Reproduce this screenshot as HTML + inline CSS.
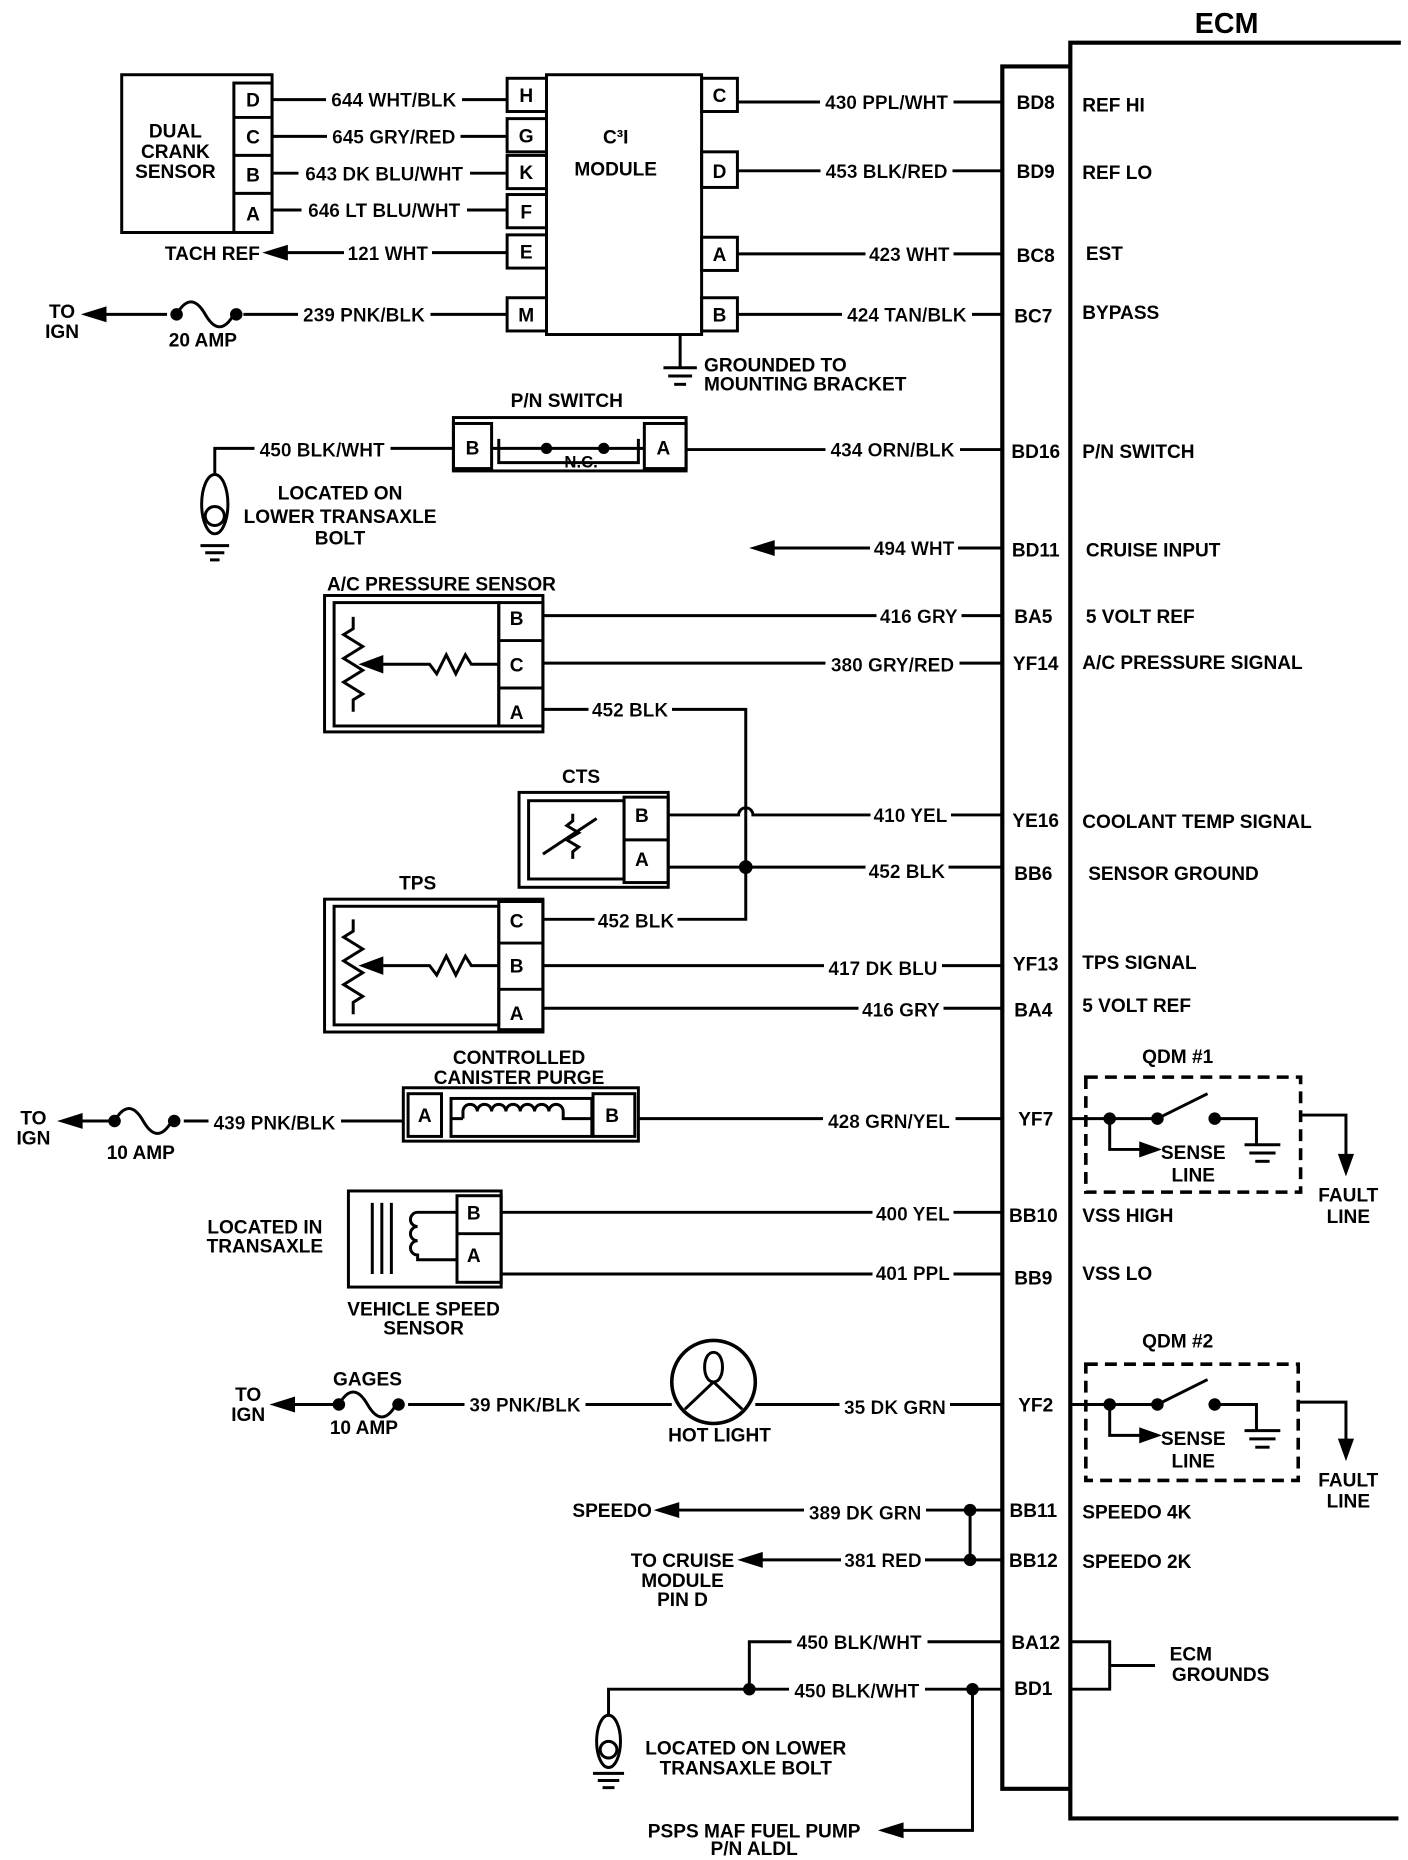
<!DOCTYPE html>
<html><head><meta charset="utf-8"><style>
html,body{margin:0;padding:0;background:#fff}
svg{display:block}
text{font-family:"Liberation Sans",sans-serif;font-weight:bold;font-size:16px;fill:#000}
.m{filter:url(#bg)}
.c{text-anchor:middle}
line,path,rect,polyline,circle,ellipse{stroke:#000;stroke-width:2.5;fill:none}
.t{stroke-width:3.5}
.d{fill:#000}
.dash{stroke-dasharray:10 6;stroke-width:3}
</style></head><body>
<svg width="1408" height="1860" viewBox="0 0 1180 1568" preserveAspectRatio="none">
<defs><filter id="bg" x="-0.04" y="-0.1" width="1.08" height="1.2"><feFlood flood-color="#fff"/><feComposite in="SourceGraphic"/></filter></defs>
<!-- ECM -->
<text x="1028" y="28" class="c" style="font-size:24px">ECM</text>
<polyline class="t" points="1174,36 897,36 897,1533 1172,1533"/>
<polyline class="t" points="897,56 840,56 840,1508 897,1508"/>
<g>
<line x1="618" y1="86" x2="840" y2="86"/><text x="743" y="92" class="c m">430 PPL/WHT</text><text x="868" y="92" class="c">BD8</text><text x="907" y="94">REF HI</text>
<line x1="618" y1="144" x2="840" y2="144"/><text x="743" y="150" class="c m">453 BLK/RED</text><text x="868" y="150" class="c">BD9</text><text x="907" y="151">REF LO</text>
<line x1="618" y1="214" x2="840" y2="214"/><text x="762" y="220" class="c m">423  WHT</text><text x="868" y="221" class="c">BC8</text><text x="910" y="219">EST</text>
<line x1="618" y1="265" x2="840" y2="265"/><text x="760" y="271" class="c m">424 TAN/BLK</text><text x="866" y="272" class="c">BC7</text><text x="907" y="269">BYPASS</text>
<line x1="575" y1="379" x2="840" y2="379"/><text x="748" y="385" class="c m">434 ORN/BLK</text><text x="868" y="386" class="c">BD16</text><text x="907" y="386">P/N SWITCH</text>
<line x1="640" y1="462" x2="840" y2="462"/><path class="d" d="M632,462 l16,-5 v10z"/><text x="766" y="468" class="c m">494 WHT</text><text x="868" y="469" class="c">BD11</text><text x="910" y="469">CRUISE INPUT</text>
<line x1="455" y1="519" x2="840" y2="519"/><text x="770" y="525" class="c m">416 GRY</text><text x="866" y="525" class="c">BA5</text><text x="910" y="525">5 VOLT REF</text>
<line x1="455" y1="559" x2="840" y2="559"/><text x="748" y="566" class="c m">380 GRY/RED</text><text x="868" y="565" class="c">YF14</text><text x="907" y="564">A/C PRESSURE SIGNAL</text>
<path d="M560,687 H619 a6,6 0 0 1 12,0 H840"/><text x="763" y="693" class="c m">410 YEL</text><text x="868" y="697" class="c">YE16</text><text x="907" y="698">COOLANT TEMP SIGNAL</text>
<line x1="560" y1="731" x2="840" y2="731"/><text x="760" y="740" class="c m">452 BLK</text><text x="866" y="742" class="c">BB6</text><text x="912" y="742">SENSOR GROUND</text>
<line x1="455" y1="814" x2="840" y2="814"/><text x="740" y="822" class="c m">417 DK BLU</text><text x="868" y="818" class="c">YF13</text><text x="907" y="817">TPS SIGNAL</text>
<line x1="455" y1="850" x2="840" y2="850"/><text x="755" y="857" class="c m">416 GRY</text><text x="866" y="857" class="c">BA4</text><text x="907" y="853">5 VOLT REF</text>
<line x1="535" y1="943" x2="840" y2="943"/><line x1="897" y1="943" x2="930" y2="943"/><text x="745" y="951" class="c m">428 GRN/YEL</text><text x="868" y="949" class="c">YF7</text>
<line x1="420" y1="1022" x2="840" y2="1022"/><text x="765" y="1029" class="c m">400 YEL</text><text x="866" y="1030" class="c">BB10</text><text x="907" y="1030">VSS HIGH</text>
<line x1="420" y1="1074" x2="840" y2="1074"/><text x="765" y="1079" class="c m">401 PPL</text><text x="866" y="1083" class="c">BB9</text><text x="907" y="1079">VSS LO</text>
<line x1="633" y1="1184" x2="840" y2="1184"/><line x1="897" y1="1184" x2="930" y2="1184"/><text x="750" y="1192" class="c m">35 DK GRN</text><text x="868" y="1190" class="c">YF2</text>
<line x1="560" y1="1273" x2="840" y2="1273"/><path class="d" d="M552,1273 l16,-5 v10z"/><text x="725" y="1281" class="c m">389 DK GRN</text><text x="866" y="1279" class="c">BB11</text><text x="907" y="1280">SPEEDO 4K</text>
<line x1="630" y1="1315" x2="840" y2="1315"/><path class="d" d="M622,1315 l16,-5 v10z"/><text x="740" y="1321" class="c m">381 RED</text><text x="866" y="1321" class="c">BB12</text><text x="907" y="1322">SPEEDO 2K</text>
<line x1="813" y1="1273" x2="813" y2="1315"/><circle class="d" cx="813" cy="1273" r="4"/><circle class="d" cx="813" cy="1315" r="4"/>
<text x="513" y="1279" class="c">SPEEDO</text>
<text x="572" y="1321" class="c">TO CRUISE</text><text x="572" y="1338" class="c">MODULE</text><text x="572" y="1354" class="c">PIN D</text>
<polyline points="628,1424 628,1384 840,1384"/><text x="720" y="1390" class="c m">450 BLK/WHT</text><text x="868" y="1390" class="c">BA12</text>
<polyline points="510,1445 510,1424 840,1424"/><text x="718" y="1431" class="c m">450 BLK/WHT</text><text x="866" y="1429" class="c">BD1</text>
<circle class="d" cx="628" cy="1424" r="4"/><circle class="d" cx="815" cy="1424" r="4"/>
<polyline points="815,1424 815,1543 750,1543"/><path class="d" d="M740,1543 l16,-5 v10z"/>
<text x="632" y="1549" class="c">PSPS MAF FUEL PUMP</text><text x="632" y="1564" class="c">P/N ALDL</text>
<polyline points="897,1384 930,1384 930,1424 897,1424"/><line x1="930" y1="1404" x2="968" y2="1404"/>
<text x="998" y="1400" class="c">ECM</text><text x="1023" y="1417" class="c">GROUNDS</text>
<ellipse cx="510" cy="1468" rx="10" ry="22"/><circle cx="510" cy="1475" r="7"/><line x1="497" y1="1495" x2="523" y2="1495"/><line x1="501" y1="1501" x2="519" y2="1501"/><line x1="505" y1="1507" x2="515" y2="1507"/>
<text x="625" y="1479" class="c">LOCATED ON LOWER</text><text x="625" y="1496" class="c">TRANSAXLE BOLT</text>
</g>
<!-- Dual crank sensor -->
<rect x="102" y="63" width="126" height="133"/>
<rect x="196" y="70" width="32" height="126"/>
<line x1="196" y1="99" x2="228" y2="99"/><line x1="196" y1="131" x2="228" y2="131"/><line x1="196" y1="163" x2="228" y2="163"/>
<text x="212" y="90" class="c">D</text><text x="212" y="121" class="c">C</text><text x="212" y="153" class="c">B</text><text x="212" y="186" class="c">A</text>
<text x="147" y="116" class="c">DUAL</text><text x="147" y="133" class="c">CRANK</text><text x="147" y="150" class="c">SENSOR</text>
<line x1="228" y1="84" x2="425" y2="84"/><text x="330" y="90" class="c m">644 WHT/BLK</text>
<line x1="228" y1="115" x2="425" y2="115"/><text x="330" y="121" class="c m">645 GRY/RED</text>
<line x1="228" y1="146" x2="425" y2="146"/><text x="322" y="152" class="c m">643 DK BLU/WHT</text>
<line x1="228" y1="177" x2="425" y2="177"/><text x="322" y="183" class="c m">646 LT BLU/WHT</text>
<line x1="232" y1="213" x2="425" y2="213"/><path class="d" d="M224,213 l16,-5 v10z"/><text x="325" y="219" class="c m">121 WHT</text>
<text x="178" y="219" class="c">TACH REF</text>
<line x1="80" y1="265" x2="425" y2="265"/><path class="d" d="M72,265 l16,-5 v10z"/>
<rect x="140" y="256" width="64" height="18" style="stroke:none;fill:#fff"/>
<path d="M148,265 c8,-14 16,-14 24,0 s16,14 24,0" /><circle class="d" cx="148" cy="265" r="4"/><circle class="d" cx="198" cy="265" r="4"/>
<text x="305" y="271" class="c m">239 PNK/BLK</text>
<text x="52" y="268" class="c">TO</text><text x="52" y="285" class="c">IGN</text><text x="170" y="292" class="c">20 AMP</text>
<!-- C3I module -->
<rect x="458" y="63" width="130" height="219"/>
<g>
<rect x="425" y="66" width="33" height="28"/><text x="441" y="86" class="c">H</text>
<rect x="425" y="100" width="33" height="28"/><text x="441" y="120" class="c">G</text>
<rect x="425" y="131" width="33" height="28"/><text x="441" y="151" class="c">K</text>
<rect x="425" y="164" width="33" height="28"/><text x="441" y="184" class="c">F</text>
<rect x="425" y="198" width="33" height="28"/><text x="441" y="218" class="c">E</text>
<rect x="425" y="251" width="33" height="28"/><text x="441" y="271" class="c">M</text>
<rect x="588" y="66" width="30" height="28"/><text x="603" y="86" class="c">C</text>
<rect x="588" y="128" width="30" height="30"/><text x="603" y="150" class="c">D</text>
<rect x="588" y="200" width="30" height="28"/><text x="603" y="220" class="c">A</text>
<rect x="588" y="251" width="30" height="28"/><text x="603" y="271" class="c">B</text>
</g>
<text x="516" y="121" class="c">C³I</text><text x="516" y="148" class="c">MODULE</text>
<line x1="570" y1="282" x2="570" y2="310"/><line x1="556" y1="310" x2="584" y2="310"/><line x1="560" y1="317" x2="580" y2="317"/><line x1="565" y1="324" x2="575" y2="324"/>
<text x="590" y="313">GROUNDED TO</text><text x="590" y="329">MOUNTING BRACKET</text>
<!-- P/N switch -->
<text x="475" y="343" class="c">P/N SWITCH</text>
<rect x="380" y="352" width="195" height="45"/>
<rect x="380" y="357" width="32" height="38"/><text x="396" y="383" class="c">B</text>
<rect x="540" y="357" width="35" height="38"/><text x="556" y="383" class="c">A</text>
<polyline points="412,378 455,378 500,378 540,378"/><circle class="d" cx="458" cy="378" r="3.5"/><circle class="d" cx="506" cy="378" r="3.5"/>
<path d="M418,370 V390 H535 V370"/><text x="487" y="394" class="c" style="font-size:14px">N.C.</text>
<polyline points="380,378 180,378 180,400"/><text x="270" y="385" class="c m">450 BLK/WHT</text>
<ellipse cx="180" cy="425" rx="11" ry="25"/><circle cx="180" cy="435" r="8"/><line x1="168" y1="460" x2="192" y2="460"/><line x1="172" y1="466" x2="188" y2="466"/><line x1="176" y1="472" x2="184" y2="472"/>
<text x="285" y="421" class="c">LOCATED ON</text><text x="285" y="441" class="c">LOWER TRANSAXLE</text><text x="285" y="459" class="c">BOLT</text>
<!-- A/C pressure sensor -->
<text x="370" y="498" class="c">A/C PRESSURE SENSOR</text>
<rect x="272" y="502" width="183" height="115"/><rect x="280" y="508" width="138" height="104"/>
<rect x="418" y="508" width="37" height="104"/><line x1="418" y1="540" x2="455" y2="540"/><line x1="418" y1="580" x2="455" y2="580"/>
<text x="433" y="527" class="c">B</text><text x="433" y="566" class="c">C</text><text x="433" y="606" class="c">A</text>
<polyline points="296,520 296,530 288,535 304,545 288,555 304,565 288,575 304,585 296,590 296,600"/>
<polyline points="418,560 395,560 390,552 382,568 374,552 366,568 360,560 310,560"/><path class="d" d="M304,560 l16,-6 v12z"/>
<!-- 452 BLK bus -->
<polyline points="455,598 625,598 625,775 455,775"/><text x="528" y="604" class="c m">452 BLK</text><text x="533" y="782" class="c m">452 BLK</text>
<circle class="d" cx="625" cy="731" r="4.5"/>
<!-- CTS -->
<text x="487" y="660" class="c">CTS</text>
<rect x="435" y="668" width="125" height="80"/><rect x="443" y="675" width="80" height="66"/>
<rect x="523" y="672" width="37" height="72"/><line x1="523" y1="708" x2="560" y2="708"/>
<text x="538" y="693" class="c">B</text><text x="538" y="730" class="c">A</text>
<polyline points="480,686 480,692 475,696 485,702 475,708 485,714 480,718 480,724"/><line x1="455" y1="720" x2="500" y2="690"/>
<!-- TPS -->
<text x="350" y="750" class="c">TPS</text>
<rect x="272" y="758" width="183" height="112"/><rect x="280" y="764" width="138" height="100"/>
<rect x="418" y="760" width="37" height="108"/><line x1="418" y1="795" x2="455" y2="795"/><line x1="418" y1="834" x2="455" y2="834"/>
<text x="433" y="782" class="c">C</text><text x="433" y="820" class="c">B</text><text x="433" y="860" class="c">A</text>
<polyline points="296,775 296,785 288,790 304,800 288,810 304,820 288,830 304,840 296,845 296,855"/>
<polyline points="418,814 395,814 390,806 382,822 374,806 366,822 360,814 310,814"/><path class="d" d="M304,814 l16,-6 v12z"/>
<!-- canister purge -->
<text x="435" y="897" class="c">CONTROLLED</text><text x="435" y="914" class="c">CANISTER PURGE</text>
<rect x="338" y="917" width="197" height="45"/>
<rect x="342" y="922" width="28" height="36"/><text x="356" y="946" class="c">A</text>
<rect x="497" y="922" width="35" height="36"/><text x="513" y="946" class="c">B</text>
<rect x="378" y="926" width="118" height="32"/>
<path d="M388,943 V937 a6,6 0 0 1 12,0 a6,6 0 0 1 12,0 a6,6 0 0 1 12,0 a6,6 0 0 1 12,0 a6,6 0 0 1 12,0 a6,6 0 0 1 12,0 a6,6 0 0 1 12,0 V943 H496 M378,943 H388"/>
<line x1="60" y1="945" x2="338" y2="945"/><path class="d" d="M52,945 l16,-5 v10z"/>
<rect x="92" y="936" width="62" height="18" style="stroke:none;fill:#fff"/>
<path d="M96,945 c8,-14 16,-14 24,0 s16,14 24,0"/><circle class="d" cx="96" cy="945" r="4"/><circle class="d" cx="146" cy="945" r="4"/>
<text x="230" y="952" class="c m">439 PNK/BLK</text>
<text x="28" y="948" class="c">TO</text><text x="28" y="965" class="c">IGN</text><text x="118" y="977" class="c">10 AMP</text>
<!-- QDM1 -->
<text x="987" y="896" class="c">QDM #1</text>
<rect class="dash" x="910" y="908" width="180" height="97"/>
<circle class="d" cx="930" cy="943" r="4"/><line x1="930" y1="943" x2="968" y2="943"/><circle class="d" cx="970" cy="943" r="4"/>
<line x1="970" y1="943" x2="1012" y2="922"/><circle class="d" cx="1018" cy="943" r="4"/><polyline points="1018,943 1053,943 1053,965"/>
<line x1="1043" y1="965" x2="1073" y2="965"/><line x1="1047" y1="972" x2="1069" y2="972"/><line x1="1052" y1="979" x2="1064" y2="979"/>
<polyline points="930,943 930,969 960,969"/><path class="d" d="M970,969 l-14,-5 v10z"/>
<text x="1000" y="977" class="c">SENSE</text><text x="1000" y="996" class="c">LINE</text>
<polyline points="1090,940 1128,940 1128,978"/><path class="d" d="M1128,988 l-5,-14 h10z"/>
<text x="1130" y="1013" class="c">FAULT</text><text x="1130" y="1031" class="c">LINE</text>
<!-- VSS -->
<rect x="292" y="1004" width="128" height="81"/>
<rect x="383" y="1008" width="37" height="73"/><line x1="383" y1="1040" x2="420" y2="1040"/>
<text x="397" y="1028" class="c">B</text><text x="397" y="1064" class="c">A</text>
<line x1="312" y1="1014" x2="312" y2="1074"/><line x1="320" y1="1014" x2="320" y2="1074"/><line x1="328" y1="1014" x2="328" y2="1074"/>
<path d="M383,1022 H350 V1022 a6,6 0 0 0 0,12 a6,6 0 0 0 0,12 a6,6 0 0 0 0,12 V1062 H383"/>
<text x="222" y="1040" class="c">LOCATED IN</text><text x="222" y="1056" class="c">TRANSAXLE</text>
<text x="355" y="1109" class="c">VEHICLE SPEED</text><text x="355" y="1125" class="c">SENSOR</text>
<!-- hot light -->
<circle cx="598" cy="1165" r="35" style="stroke-width:3"/>
<path d="M598,1140 c-10,0 -10,25 0,25 c10,0 10,-25 0,-25 M598,1165 L574,1188 M598,1165 L622,1188"/>
<text x="603" y="1215" class="c">HOT LIGHT</text>
<line x1="238" y1="1184" x2="563" y2="1184"/><path class="d" d="M230,1184 l16,-5 v10z"/>
<rect x="280" y="1175" width="62" height="18" style="stroke:none;fill:#fff"/>
<path d="M284,1184 c8,-14 16,-14 24,0 s16,14 24,0"/><circle class="d" cx="284" cy="1184" r="4"/><circle class="d" cx="334" cy="1184" r="4"/>
<text x="440" y="1190" class="c m">39 PNK/BLK</text>
<text x="308" y="1168" class="c">GAGES</text><text x="305" y="1209" class="c">10 AMP</text>
<text x="208" y="1181" class="c">TO</text><text x="208" y="1198" class="c">IGN</text>
<!-- QDM2 -->
<text x="987" y="1136" class="c">QDM #2</text>
<rect class="dash" x="910" y="1150" width="178" height="98"/>
<circle class="d" cx="930" cy="1184" r="4"/><line x1="930" y1="1184" x2="968" y2="1184"/><circle class="d" cx="970" cy="1184" r="4"/>
<line x1="970" y1="1184" x2="1012" y2="1163"/><circle class="d" cx="1018" cy="1184" r="4"/><polyline points="1018,1184 1053,1184 1053,1206"/>
<line x1="1043" y1="1206" x2="1073" y2="1206"/><line x1="1047" y1="1213" x2="1069" y2="1213"/><line x1="1052" y1="1220" x2="1064" y2="1220"/>
<polyline points="930,1184 930,1210 960,1210"/><path class="d" d="M970,1210 l-14,-5 v10z"/>
<text x="1000" y="1218" class="c">SENSE</text><text x="1000" y="1237" class="c">LINE</text>
<polyline points="1088,1182 1128,1182 1128,1218"/><path class="d" d="M1128,1228 l-5,-14 h10z"/>
<text x="1130" y="1253" class="c">FAULT</text><text x="1130" y="1271" class="c">LINE</text>
</svg>
</body></html>
